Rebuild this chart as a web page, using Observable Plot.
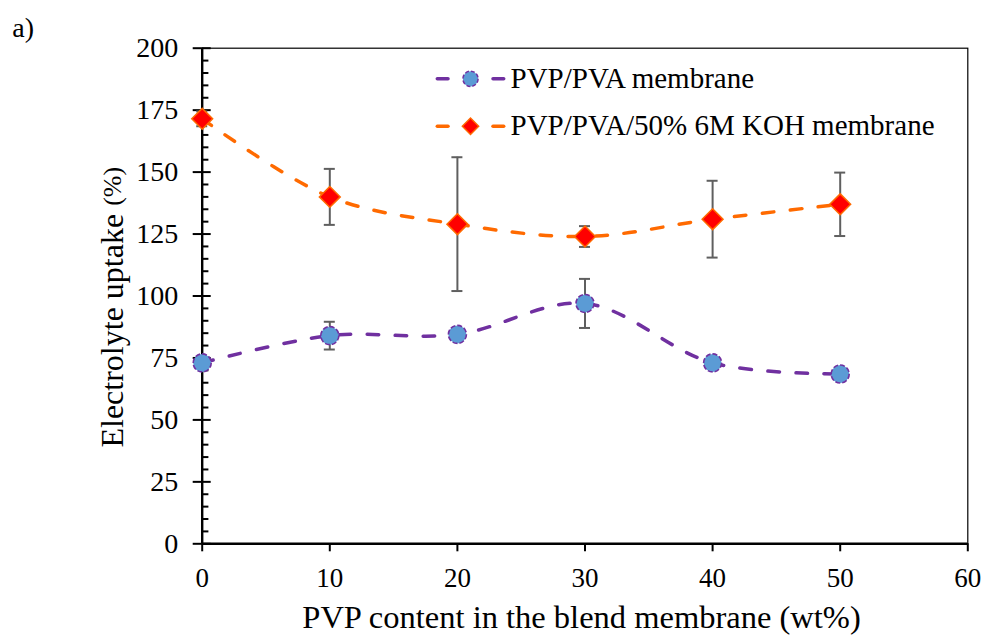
<!DOCTYPE html>
<html>
<head>
<meta charset="utf-8">
<script src="https://cdn.jsdelivr.net/npm/d3@7"></script>
<script src="https://cdn.jsdelivr.net/npm/@observablehq/plot@0.6"></script>
<style>
  html, body { margin: 0; padding: 0; background: #fff; }
  #chart { width: 986px; height: 635px; }
  #chart svg { display: block; }
  #chart svg text { font-family: "Liberation Serif", "Times New Roman", serif !important; }
</style>
</head>
<body>
<div id="chart"></div>
<script>
// PVP content of the blend (wt%)
const pvpContent = [0, 10, 20, 30, 40, 50];

// Electrolyte uptake (%) and standard deviations
const uptakePVA = [73, 84, 84.5, 97, 73, 68.5];
const errPVA    = [2, 5.6, 2, 9.9, 2, 1.5];
const uptakeKOH = [171.5, 140, 129, 124, 131, 137];
const errKOH    = [3, 11.3, 27, 4.2, 15.5, 12.8];

const seriesNames = ["PVP/PVA membrane", "PVP/PVA/50% 6M KOH membrane"];

const xTicks = [0, 10, 20, 30, 40, 50, 60];
const yTicks = [0, 25, 50, 75, 100, 125, 150, 175, 200];
const yMinorTicks = d3.range(5, 200, 5).filter(v => v % 25 !== 0);

const xTitle = "PVP content in the blend membrane (wt%)";
const yTitleMain = "Electrolyte uptake";
const yTitleUnit = "(%)";
const panelTag = "a)";

// colours
const purple = "#7030A0";
const blue = "#5B9BD5";
const orange = "#FF6A00";
const red = "#FF0000";
const barGray = "#5F5F5F";

// layout
const W = 986, H = 635;
const ml = 201.7, mr = 18.7, mt = 47.7, mb = 91.7;
const plotW = W - ml - mr;

const rowsPVA = pvpContent.map((x, i) => ({x, y: uptakePVA[i], e: errPVA[i]}));
const rowsKOH = pvpContent.map((x, i) => ({x, y: uptakeKOH[i], e: errKOH[i]}));

// pixel -> data helpers for the in-plot legend
const sx = d3.scaleLinear([0, 60], [ml, W - mr]);
const sy = d3.scaleLinear([0, 200], [H - mb, mt]);

const legendRows = [
  {name: seriesNames[0], py: 78.3, stroke: purple, kind: "circle"},
  {name: seriesNames[1], py: 125.7, stroke: orange, kind: "diamond"}
].map(d => ({
  ...d,
  y: sy.invert(d.py),
  xa1: sx.invert(436.8), xa2: sx.invert(447.5),
  xb1: sx.invert(492.5), xb2: sx.invert(503.2),
  xm: sx.invert(470),
  xt: sx.invert(510)
}));

const errorBars = (rows) => [
  Plot.ruleX(rows, {x: "x", y1: d => d.y - d.e, y2: d => d.y + d.e, stroke: barGray, strokeWidth: 2}),
  Plot.ruleY(rows, {y: d => d.y + d.e, x1: "x", x2: "x", insetLeft: -5.5, insetRight: -5.5, stroke: barGray, strokeWidth: 2}),
  Plot.ruleY(rows, {y: d => d.y - d.e, x1: "x", x2: "x", insetLeft: -5.5, insetRight: -5.5, stroke: barGray, strokeWidth: 2})
];

const chart = Plot.plot({
  width: W,
  height: H,
  marginLeft: ml,
  marginRight: mr,
  marginTop: mt,
  marginBottom: mb,
  style: {background: "#fff", color: "#000"},
  x: {domain: [0, 60]},
  y: {domain: [0, 200]},
  marks: [
    Plot.frame({stroke: "#000", strokeWidth: 1.2}),

    // y axis: labels + outward ticks, inward major and minor ticks
    Plot.axisY({ticks: yTicks, tickSize: 9, tickPadding: 15, fontSize: 28, label: null, stroke: "#000", strokeWidth: 2, color: "#000"}),
    Plot.tickY(yTicks, {y: d => d, insetRight: plotW - 9, stroke: "#000", strokeWidth: 2}),
    Plot.tickY(yMinorTicks, {y: d => d, insetRight: plotW - 6.7, stroke: "#000", strokeWidth: 2}),

    // x axis: outward ticks
    Plot.axisX({ticks: xTicks, tickSize: 8, tickPadding: 16, fontSize: 27, label: null, stroke: "#000", strokeWidth: 2, color: "#000", tickFormat: d3.format("d")}),

    // axis lines
    Plot.ruleX([0], {stroke: "#000", strokeWidth: 2.4}),
    Plot.ruleY([0], {stroke: "#000", strokeWidth: 2.4}),

    // smoothed dashed curves
    Plot.line(rowsPVA, {x: "x", y: "y", curve: "catmull-rom", stroke: purple, strokeWidth: 3.5, strokeDasharray: "11.5,16.5", strokeLinecap: "round"}),
    Plot.line(rowsKOH, {x: "x", y: "y", curve: "catmull-rom", stroke: orange, strokeWidth: 3.5, strokeDasharray: "11.5,16.5", strokeLinecap: "round"}),

    // error bars
    ...errorBars(rowsPVA),
    ...errorBars(rowsKOH),

    // markers
    Plot.dot(rowsPVA, {x: "x", y: "y", r: 9, fill: blue, stroke: purple, strokeWidth: 1.6, strokeDasharray: "5,2"}),
    Plot.dot(rowsKOH, {x: "x", y: "y", symbol: "diamond2", r: 9.4, fill: red, stroke: orange, strokeWidth: 1.5}),

    // legend
    Plot.link(legendRows, {x1: "xa1", x2: "xa2", y1: "y", y2: "y", stroke: "stroke", strokeWidth: 3.5, strokeLinecap: "round"}),
    Plot.link(legendRows, {x1: "xb1", x2: "xb2", y1: "y", y2: "y", stroke: "stroke", strokeWidth: 3.5, strokeLinecap: "round"}),
    Plot.dot(legendRows.filter(d => d.kind === "circle"), {x: "xm", y: "y", r: 7.6, fill: blue, stroke: purple, strokeWidth: 1.5, strokeDasharray: "4,2"}),
    Plot.dot(legendRows.filter(d => d.kind === "diamond"), {x: "xm", y: "y", symbol: "diamond2", r: 7.4, fill: red, stroke: orange, strokeWidth: 1.4}),
    Plot.text(legendRows, {x: "xt", y: "y", text: "name", textAnchor: "start", lineAnchor: "middle", fontSize: 29, fill: "#000"}),

    // axis titles
    Plot.text([xTitle], {frameAnchor: "bottom", dx: -3.5, dy: 74, textAnchor: "middle", lineAnchor: "middle", fontSize: 32.5, fill: "#000"}),
    Plot.text([yTitleMain], {frameAnchor: "left", rotate: -90, dx: -89.9, dy: 34.7, textAnchor: "middle", lineAnchor: "middle", fontSize: 32, fill: "#000"}),
    Plot.text([yTitleUnit], {frameAnchor: "left", rotate: -90, dx: -89.9, dy: -109.7, textAnchor: "middle", lineAnchor: "middle", fontSize: 26, fill: "#000"}),

    // panel tag
    Plot.text([panelTag], {frameAnchor: "top-left", dx: -190, dy: -20.5, textAnchor: "start", lineAnchor: "middle", fontSize: 28, fill: "#000"})
  ]
});

document.getElementById("chart").appendChild(chart);
</script>
</body>
</html>
